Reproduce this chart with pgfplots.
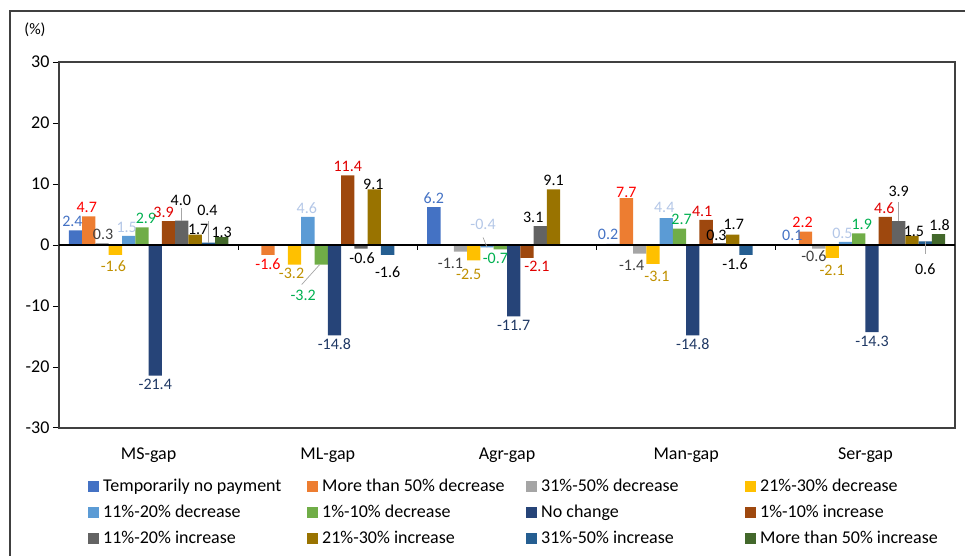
\documentclass[border=0pt]{standalone}
\usepackage{fontspec}
\setmainfont{Carlito}
\usepackage{pgfplots}
\usepackage{pgfplotstable}
\pgfplotsset{compat=1.18}

\definecolor{c1}{HTML}{4472C4}
\definecolor{c2}{HTML}{ED7D31}
\definecolor{c3}{HTML}{A5A5A5}
\definecolor{c4}{HTML}{FFC000}
\definecolor{c5}{HTML}{5B9BD5}
\definecolor{c6}{HTML}{70AD47}
\definecolor{c7}{HTML}{264478}
\definecolor{c8}{HTML}{9E480E}
\definecolor{c9}{HTML}{636363}
\definecolor{c10}{HTML}{997300}
\definecolor{c11}{HTML}{255E91}
\definecolor{c12}{HTML}{43682B}
\definecolor{l1}{HTML}{4472C4}
\definecolor{l2}{HTML}{FF0000}
\definecolor{l3}{HTML}{404040}
\definecolor{l4}{HTML}{BF9000}
\definecolor{l5}{HTML}{B4C7E7}
\definecolor{l6}{HTML}{00B050}
\definecolor{l7}{HTML}{1F3864}
\definecolor{l8}{HTML}{E00000}
\definecolor{frame}{HTML}{404040}
\tikzset{leader/.style={gray!70, line width=0.7bp}}

% x: category index, y: value, dx/dy: label offsets (bp)
\pgfplotstableread{
x y dx dy
0 2.4 -3 0
2 6.2 0 0
3 0.2 -5 0
4 0.1 0 0
}\tA
\pgfplotstableread{
x y dx dy
0 4.7 -2 0
1 -1.6 0 0
3 7.7 0 -3
4 2.2 -3 0
}\tB
\pgfplotstableread{
x y dx dy
0 0.3 1 0
2 -1.1 -10 -3
3 -1.4 -8 -3
4 -0.6 -5 2
}\tC
\pgfplotstableread{
x y dx dy
0 -1.6 -2 -2
1 -3.2 -3 0
2 -2.5 -5 -5
3 -3.1 4 -4
4 -2.1 0 -4
}\tD
\pgfplotstableread{
x y dx dy
0 1.5 -2 0
1 4.6 -1 0
2 -0.4 -4 32
3 4.4 -2 2
4 0.5 -3 0
}\tE
\pgfplotstableread{
x y dx dy
0 2.9 4 0
1 -3.2 -18 -22
2 -0.7 -5 0
3 2.7 2 0
4 1.9 3 0
}\tF
\pgfplotstableread{
x y dx dy
0 -21.4 0 0
1 -14.8 0 0
2 -11.7 0 0
3 -14.8 0 0
4 -14.3 0 0
}\tG
\pgfplotstableread{
x y dx dy
0 3.9 -5 0
1 11.4 0 0
2 -2.1 10 0
3 4.1 -4 0
4 4.6 -1 0
}\tH
\pgfplotstableread{
x y dx dy
0 4.0 -1 11
1 -0.6 1 0
2 3.1 -7 0
3 0.3 -3 -1
4 3.9 0 21
}\tI
\pgfplotstableread{
x y dx dy
0 1.7 3 -4
1 9.1 -1 -4
2 9.1 0 0
3 1.7 1 1
4 1.5 2 -4
}\tJ
\pgfplotstableread{
x y dx dy
0 0.4 -1 23
1 -1.6 0 -8
3 -1.6 -11 0
4 0.6 0 -37
}\tK
\pgfplotstableread{
x y dx dy
0 1.3 0 -4
4 1.8 1 0
}\tL

\pgfplotsset{
  lbl/.style={
    nodes near coords={\pgfmathprintnumber[fixed,fixed zerofill,precision=1,assume math mode=true]{\pgfplotspointmeta}},
    nodes near coords align=vertical,
    visualization depends on={\thisrow{dx} \as \dx},
    visualization depends on={\thisrow{dy} \as \dy},
    every node near coord/.append style={font=\fontsize{16bp}{16bp}\selectfont, inner sep=3.5bp, text=#1, xshift={\dx*1bp}, yshift={\dy*1bp}},
  },
}

\begin{document}
\begin{tikzpicture}
\path[use as bounding box] (0,0) rectangle (965bp,556bp);
\draw[frame, line width=1.5bp] (980bp,545bp) -- (10bp,545bp) -- (10bp,-20bp);
\node[font=\fontsize{16bp}{16bp}\selectfont, inner sep=0pt] at (35bp,526bp) {(\%)};
\begin{axis}[
  at={(59bp,128bp)}, anchor=south west,
  scale only axis, width=896bp, height=366bp,
  ybar, bar width=0.0742,
  xmin=-0.5, xmax=4.5, ymin=-30, ymax=30,
  ytick={-30,-20,...,30},
  xtick={0,1,2,3,4},
  xticklabels={MS-gap, ML-gap, Agr-gap, Man-gap, Ser-gap},
  x tick style={draw=none},
  y tick style={black, line width=1bp},
  tick align=outside, major tick length=6bp,
  ytick pos=left,
  axis line style={frame, line width=1.5bp},
  tick label style={font=\fontsize{18bp}{18bp}\selectfont},
  xticklabel style={yshift=-10bp},
  /pgf/number format/assume math mode=true,
  clip=false,
  legend columns=4,
  legend style={draw=none, fill=none, at={(0.0324,-0.139)}, anchor=north west,
    inner sep=0pt, font=\fontsize{18bp}{18bp}\selectfont,
    nodes={inner sep=0pt, text height=12bp, text depth=3bp},
    row sep=11bp,
    /tikz/every odd column/.append style={column sep=4bp}},
  legend image code/.code={\fill[#1, draw=none] (0bp,-5.5bp) rectangle (11bp,5.5bp);},
]
\addplot[fill=c1, draw=none, bar shift=-0.4081, lbl=l1] table[x=x,y=y] {\tA};
\addplot[fill=c2, draw=none, bar shift=-0.3339, lbl=l2] table[x=x,y=y] {\tB};
\addplot[fill=c3, draw=none, bar shift=-0.2597, lbl=l3] table[x=x,y=y] {\tC};
\addplot[fill=c4, draw=none, bar shift=-0.1855, lbl=l4] table[x=x,y=y] {\tD};
\addplot[fill=c5, draw=none, bar shift=-0.1113, lbl=l5] table[x=x,y=y] {\tE};
\addplot[fill=c6, draw=none, bar shift=-0.0371, lbl=l6] table[x=x,y=y] {\tF};
\addplot[fill=c7, draw=none, bar shift=0.0371, lbl=l7] table[x=x,y=y] {\tG};
\addplot[fill=c8, draw=none, bar shift=0.1113, lbl=l8] table[x=x,y=y] {\tH};
\addplot[fill=c9, draw=none, bar shift=0.1855, lbl=black] table[x=x,y=y] {\tI};
\addplot[fill=c10, draw=none, bar shift=0.2597, lbl=black] table[x=x,y=y] {\tJ};
\addplot[fill=c11, draw=none, bar shift=0.3339, lbl=black] table[x=x,y=y] {\tK};
\addplot[fill=c12, draw=none, bar shift=0.4081, lbl=black] table[x=x,y=y] {\tL};
\addlegendentry{\makebox[204bp][l]{Temporarily no payment}}
\addlegendentry{\makebox[204bp][l]{More than 50\% decrease}}
\addlegendentry{\makebox[204bp][l]{31\%-50\% decrease}}
\addlegendentry{\makebox[204bp][l]{21\%-30\% decrease}}
\addlegendentry{\makebox[204bp][l]{11\%-20\% decrease}}
\addlegendentry{\makebox[204bp][l]{1\%-10\% decrease}}
\addlegendentry{\makebox[204bp][l]{No change}}
\addlegendentry{\makebox[204bp][l]{1\%-10\% increase}}
\addlegendentry{\makebox[204bp][l]{11\%-20\% increase}}
\addlegendentry{\makebox[204bp][l]{21\%-30\% increase}}
\addlegendentry{\makebox[204bp][l]{31\%-50\% increase}}
\addlegendentry{\makebox[204bp][l]{More than 50\% increase}}
% zero line with category separators
\draw[black, line width=1.2bp] (axis cs:-0.5,0) -- (axis cs:4.5,0);
\pgfplotsinvokeforeach{0.5,1.5,2.5,3.5}{\draw[black, line width=1bp] (axis cs:#1,0) -- ([yshift=-5bp]axis cs:#1,0);}
% leader lines
\draw[leader] (axis cs:0.1855,4.0) -- ([yshift=13bp]axis cs:0.1855,4.0);
\draw[leader] (axis cs:0.3339,0.4) -- ([yshift=22bp]axis cs:0.3339,0.4);
\draw[leader] (axis cs:0.955,-3.2) -- ([xshift=-18bp,yshift=-20bp]axis cs:0.955,-3.2);
\draw[leader] (axis cs:1.8887,-0.4) -- ([xshift=-4bp,yshift=10bp]axis cs:1.8887,-0.4);
\draw[leader] (axis cs:4.1855,3.9) -- ([yshift=19bp]axis cs:4.1855,3.9);
\draw[leader] (axis cs:4.3339,0.6) -- ([yshift=-13bp]axis cs:4.3339,0.6);
\end{axis}
\end{tikzpicture}
\end{document}
